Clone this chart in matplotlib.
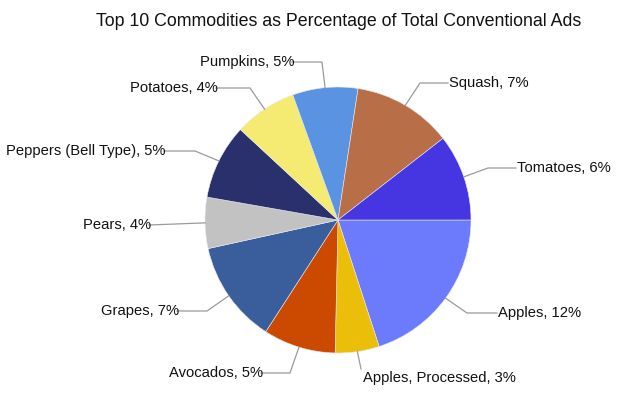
import numpy as np
import matplotlib.pyplot as plt

plt.rcParams['font.family'] = ['Liberation Sans', 'DejaVu Sans']

# share of all conventional ads (%), clockwise from 3 o'clock
commodities = ['Apples', 'Apples, Processed', 'Avocados', 'Grapes', 'Pears',
               'Peppers (Bell Type)', 'Potatoes', 'Pumpkins', 'Squash', 'Tomatoes']
shares = [11.6, 3.1, 5.1, 7.2, 3.6, 5.3, 4.4, 4.6, 7.0, 6.1]
colors = ['#6B7BFB', '#EBBE0A', '#CC4A00', '#3A5E9C', '#C2C2C2',
          '#2A306C', '#F5EB72', '#5A93E2', '#B86F47', '#4636E2']

# label layout in pixels: text x, text y, alignment, elbow x (None = straight)
label_pos = [(496, 313, 'left', 467), (361, 378, 'left', None),
             (263, 373, 'right', 290), (179, 311, 'right', 207),
             (151, 225, 'right', None), (166, 151, 'right', 195),
             (218, 88, 'right', 250), (294, 62, 'right', 322),
             (447, 83, 'left', 420), (515, 168, 'left', 488)]

W, H = 626, 396
cx, cy, r = 338, 220, 133

fig = plt.figure(figsize=(W / 100, H / 100), dpi=100)
ax = fig.add_axes([0, 0, 1, 1])
wedges, _ = ax.pie(shares, colors=colors, startangle=0, counterclock=True,
                   center=(cx, cy), radius=r, frame=True,
                   wedgeprops=dict(linewidth=0.4, edgecolor='#e8e8f0'))
ax.set_xlim(0, W)
ax.set_ylim(H, 0)
ax.set_aspect('equal')
ax.axis('off')

for w, name, val, (tx, ty, ha, ex) in zip(wedges, commodities, shares, label_pos):
    mid = np.deg2rad((w.theta1 + w.theta2) / 2)
    px, py = cx + r * np.cos(mid), cy + r * np.sin(mid)
    lx = tx - 2 if ha == 'right' else tx + 1
    if name == 'Apples, Processed':
        xs, ys = [px, tx], [py, ty - 9]
    elif ex is None:
        xs, ys = [px, lx], [py, ty]
    else:
        xs, ys = [px, ex, lx], [py, ty, ty]
    ax.plot(xs, ys, color='#9a9a9a', lw=0.9)
    txt_x = tx + 2 if ha == 'left' else tx
    ax.text(txt_x, ty, f'{name}, {round(val):.0f}%', ha=ha, va='center',
            fontsize=10.6, color='#111111')

ax.text(339, 22, 'Top 10 Commodities as Percentage of Total Conventional Ads',
        ha='center', va='center', fontsize=12.8, color='#111111')

fig.savefig('out.png', dpi=100)
